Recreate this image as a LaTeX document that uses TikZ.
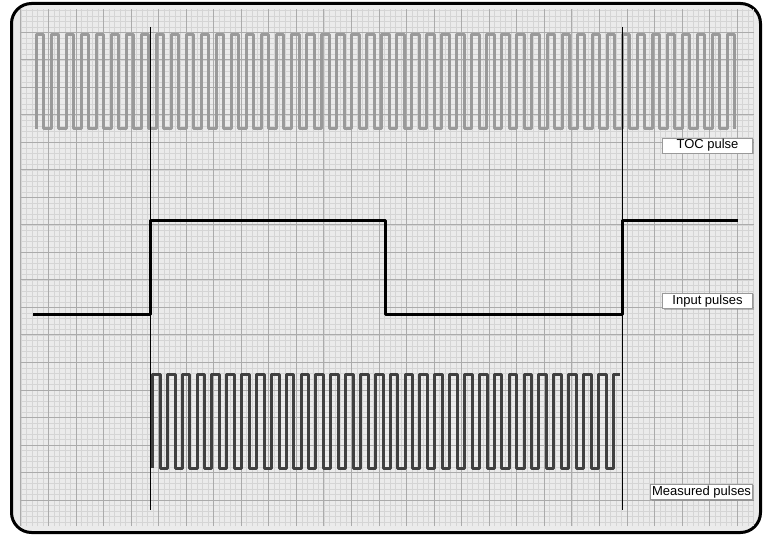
\documentclass[tikz,border=0pt]{standalone}
\usepackage{fontspec}
\setmainfont{Liberation Sans}
\usetikzlibrary{shadows}
\definecolor{paper}{HTML}{EBEBEB}
\definecolor{minorgrid}{HTML}{D5D5D5}
\definecolor{majorgrid}{HTML}{ABABAB}
\definecolor{tocgray}{HTML}{9A9A9A}
\definecolor{measgray}{HTML}{404040}
\tikzset{
  tag/.style={draw=gray!80, fill=white, anchor=east, font=\fontsize{13}{15}\selectfont,
    minimum width=90pt, minimum height=15pt, inner sep=1.5pt,
    drop shadow={shadow xshift=1.2pt, shadow yshift=-1.2pt, opacity=.5}},
  wave/.style={line width=3pt, line join=round},
  marker/.style={line width=1.4pt}
}
\begin{document}
\begin{tikzpicture}[x=1pt, y=1pt]
\useasboundingbox (0,0) rectangle (763,536);
\filldraw[fill=paper, draw=black, line width=3pt, rounded corners=20pt] (11.5,3.5) rectangle (760.5,532.5);
\begin{scope}
\clip (19.5,10) rectangle (754,527);
\foreach \i in {0,...,133} \draw[minorgrid, line width=.6pt] (20.8+5.51*\i,10) -- (20.8+5.51*\i,527);
\foreach \j in {-4,...,89} \draw[minorgrid, line width=.6pt] (19.5,503.6-5.5*\j) -- (754,503.6-5.5*\j);
\foreach \i in {0,...,26} \draw[majorgrid, line width=.8pt] (20.8+27.55*\i,10) -- (20.8+27.55*\i,527);
\foreach \j in {0,...,17} \draw[majorgrid, line width=.8pt] (19.5,503.6-27.5*\j) -- (754,503.6-27.5*\j);
\end{scope}
\coordinate (A) at (150.5,509);
\coordinate (B) at (150.5,26);
\coordinate (C) at (622.3,509);
\coordinate (D) at (622.3,26);
\draw[wave, tocgray] (36,407) \foreach \k in {1,...,46} { -- ++(0,94.3) -- ++(7.5,0) -- ++(0,-94.3) -- ++(7.53,0) }
	-- ++(0,94.3) -- ++(7.5,0) -- ++(0,-94.3);
\draw[wave, black] (33,221) -- (150.5,221) -- (150.5,315.3) -- (385.5,315.3) -- (385.5,221)
	-- (622.3,221) -- (622.3,315.3) -- (738,315.3);
\draw[wave, measgray] (152.5,68) \foreach \k in {1,...,31} { -- ++(0,94) -- ++(7.7,0) -- ++(0,-94) -- ++(7.16,0) }
	-- ++(0,94) -- ++(6.7,0);
\draw[marker] (A) -- (B);
\draw[marker] (C) -- (D);
\node[tag] (toc) at (752.7,390.5) {TOC pulse};
\node[tag] (input) at (752.7,235.2) {Input pulses};
\node[tag] (measured) at (752.7,44.2) {Measured pulses};
\end{tikzpicture}
\end{document}
